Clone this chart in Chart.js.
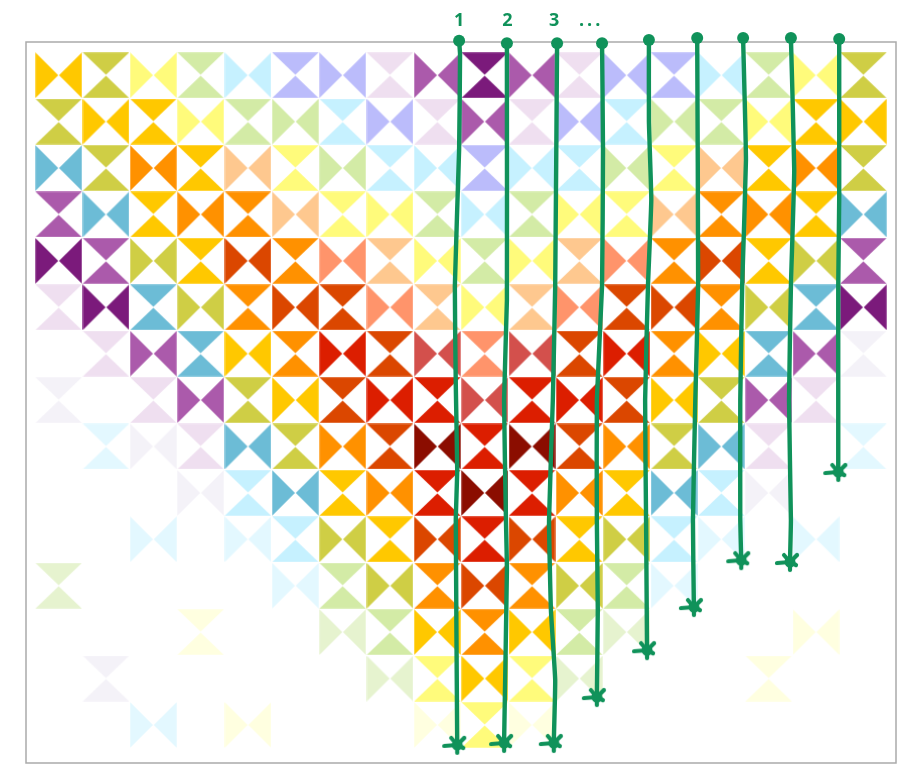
<!DOCTYPE html>
<html>
<head>
<meta charset="utf-8">
<style>html,body{margin:0;padding:0;background:#fff}canvas{display:block}</style>
<script src="https://cdn.jsdelivr.net/npm/chart.js@4"></script>
</head>
<body>
<canvas id="c" width="910" height="782"></canvas>
<script>
// Heat classes per row, left to right ('.' = empty cell)
const row00 = "G o y n c v v l p P p l v v c n y o".split(" ");
const row01 = "o G G y n n c v l p l v c n n y G G".split(" ");
const row02 = "b o O G k y n c c v c c n y k G O o".split(" ");
const row03 = "p b G O O k y y n c n y y k O O G b".split(" ");
const row04 = "P p o G R O s k y n y k s O R G o p".split(" ");
const row05 = "l P b o O R R s k y k s R R O o b P".split(" ");
const row06 = ". l p b G O r R d s d R r O G b p g".split(" ");
const row07 = "g . l p o G R r r d r r R G o p l .".split(" ");
const row08 = ". i g l b o O R D r D R O o b l . i".split(" ");
const row09 = ". . . g c b G O r D r O G b c g . .".split(" ");
const row10 = ". . i . i c o G R r R G o c i . i .".split(" ");
const row11 = "m . . . . i n o O R O o n i . . . .".split(" ");
const row12 = ". . . z . . m n G O G n m . . . z .".split(" ");
const row13 = ". g . . . . . m y G y m . . . z . .".split(" ");
const row14 = ". . i . z . . . z y z . . . . . . .".split(" ");
const rows = [row00,row01,row02,row03,row04,row05,row06,row07,row08,row09,row10,row11,row12,row13,row14];

// Cells whose hourglass runs against the checkerboard: "row,column"
const flippedCells = ["13,1","13,15"];

// Hand-drawn arrows, in data units (column, row)
const arrow1 = [[8.46,-0.74],[8.48,-0.45],[8.46,1.61],[8.37,4.54],[8.39,6.68],[8.42,8.51],[8.39,9.59],[8.42,14.43]];
const arrow2 = [[9.47,-0.69],[9.47,0.53],[9.47,4.84],[9.41,7.00],[9.45,9.59],[9.47,10.66],[9.41,14.39]];
const arrow3 = [[10.53,-0.69],[10.49,4.54],[10.44,7.00],[10.36,9.59],[10.40,11.53],[10.49,13.03],[10.46,14.39]];
const arrow4 = [[11.48,-0.69],[11.50,1.61],[11.48,4.54],[11.37,7.00],[11.37,9.59],[11.39,11.53],[11.37,13.40]];
const arrow5 = [[12.47,-0.76],[12.47,1.00],[12.52,2.69],[12.45,4.54],[12.39,7.00],[12.41,9.59],[12.43,12.39]];
const arrow6 = [[13.49,-0.80],[13.51,4.54],[13.45,7.00],[13.40,9.59],[13.42,11.46]];
const arrow7 = [[14.46,-0.80],[14.52,1.83],[14.44,4.54],[14.40,7.00],[14.40,9.59],[14.42,10.45]];
const arrow8 = [[15.47,-0.80],[15.54,2.04],[15.47,4.54],[15.43,7.00],[15.47,9.59],[15.45,10.49]];
const arrow9 = [[16.49,-0.78],[16.49,2.69],[16.47,4.54],[16.47,7.00],[16.47,8.55]];
const arrows = [arrow1,arrow2,arrow3,arrow4,arrow5,arrow6,arrow7,arrow8,arrow9];

const noteLabels = ["1","2","3","..."];
const noteColumns = [8.46,9.48,10.47,11.25];
const noteRow = -1.16;

const palette = {
  P:'#7b1a7b', p:'#ab5aab', v:'#bbbcfb', l:'#efdff0', g:'#f4f2f8',
  b:'#6cbcd6', c:'#c6f1ff', i:'#e3f8ff', o:'#cfce45', n:'#d3eba6',
  m:'#e6f3cf', y:'#fffb7b', z:'#ffffe0', G:'#ffc800', k:'#fec88f',
  O:'#ff9100', s:'#ff946b', R:'#db4700', r:'#dc1e00', d:'#d3504c', D:'#8b0d00'
};
const GREEN = '#10925a';

const cells = [];
rows.forEach((row, y) => row.forEach((cls, x) => { if (cls !== '.') cells.push({x, y, cls}); }));

const stamps = {};
function stamp(cls, bowtie) {
  const key = cls + (bowtie ? 'h' : 'v');
  if (stamps[key]) return stamps[key];
  const w = 47, h = 46, cv = document.createElement('canvas');
  cv.width = w; cv.height = h;
  const g = cv.getContext('2d');
  g.fillStyle = palette[cls];
  const tri = (a,b,c,d,e,f) => { g.beginPath(); g.moveTo(a,b); g.lineTo(c,d); g.lineTo(e,f); g.closePath(); g.fill(); };
  const cx = w/2, cy = h/2;
  if (bowtie) {
    tri(0.3,0.3, cx-0.4,cy, 0.3,h-0.3);
    tri(w-0.3,0.3, cx+0.4,cy, w-0.3,h-0.3);
  } else {
    tri(0.3,0.3, w-0.3,0.3, cx,cy-0.4);
    tri(0.3,h-0.3, w-0.3,h-0.3, cx,cy+0.4);
  }
  return stamps[key] = cv;
}
function isBowtie(c) {
  const even = (c.x + c.y) % 2 === 0;
  return flippedCells.includes(c.y + ',' + c.x) ? !even : even;
}
function arrowHead() {
  const cv = document.createElement('canvas');
  cv.width = 36; cv.height = 36;
  const g = cv.getContext('2d');
  g.strokeStyle = GREEN; g.fillStyle = GREEN; g.lineWidth = 4.2; g.lineCap = 'round';
  [[-13,1],[-6,-7],[7,-7],[0,8],[6,3]].forEach(([a,b]) => {
    g.beginPath(); g.moveTo(18,18); g.lineTo(18+a,18+b); g.stroke();
  });
  g.beginPath(); g.arc(18,18,5.5,0,Math.PI*2); g.fill();
  return cv;
}
const head = arrowHead();

const framePlugin = {
  id:'frame',
  beforeDatasetsDraw(chart) {
    const {ctx, chartArea:a} = chart;
    ctx.save();
    ctx.strokeStyle = '#aaaaaa';
    ctx.lineWidth = 1.5;
    ctx.strokeRect(a.left, a.top, a.right-a.left, a.bottom-a.top);
    ctx.restore();
  },
  afterDatasetsDraw(chart) {
    const {ctx, scales} = chart;
    ctx.save();
    ctx.fillStyle = GREEN;
    ctx.textAlign = 'center';
    ctx.textBaseline = 'middle';
    ctx.font = 'bold 18px "Open Sans"';
    noteLabels.forEach((t,i) => {
      const dots = t === '...';
      if ('letterSpacing' in ctx) ctx.letterSpacing = dots ? '3px' : '0px';
      ctx.fillText(t, scales.x.getPixelForValue(noteColumns[i]), scales.y.getPixelForValue(noteRow));
    });
    ctx.restore();
  }
};

new Chart(document.getElementById('c'), {
  type:'scatter',
  data:{ datasets:[
    ...arrows.map((a,i) => ({
      type:'line',
      label:'arrow '+(i+1),
      data:a.map(([x,y]) => ({x,y})),
      borderColor:GREEN, backgroundColor:GREEN,
      borderWidth:4.4, tension:0.12, clip:false, order:1, showLine:true,
      pointRadius:c => c.dataIndex === 0 ? 6 : (c.dataIndex === a.length-1 ? 12 : 0),
      pointStyle:c => c.dataIndex === a.length-1 ? head : 'circle',
      pointBorderWidth:0, pointBackgroundColor:GREEN
    })),
    {
      label:'cells',
      data:cells,
      order:2,
      pointRadius:12,
      pointStyle:c => c.raw ? stamp(c.raw.cls, isBowtie(c.raw)) : 'circle'
    }
  ]},
  options:{
    responsive:false,
    animation:false,
    events:[],
    layout:{padding:{left:26,top:42,right:14,bottom:19}},
    plugins:{legend:{display:false},tooltip:{enabled:false}},
    scales:{
      x:{type:'linear',display:false,min:-0.69,max:17.69},
      y:{type:'linear',display:false,reverse:true,min:-0.7155,max:14.82}
    }
  },
  plugins:[framePlugin]
});
</script>
</body>
</html>
